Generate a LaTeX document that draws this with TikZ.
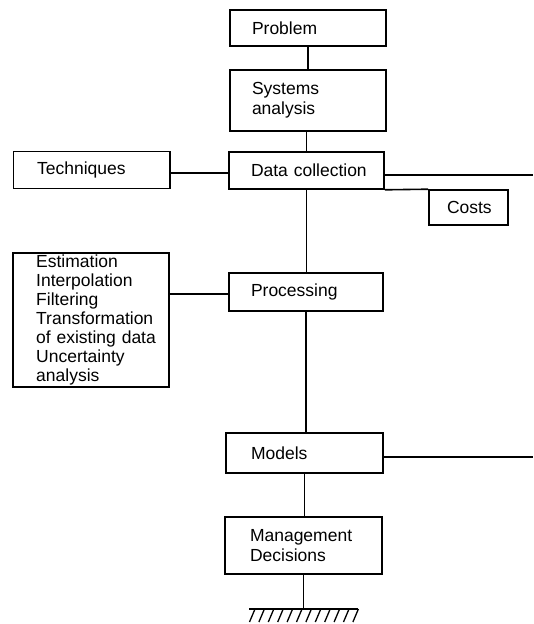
\documentclass[tikz,border=0pt]{standalone}
\usepackage{fontspec}
\setmainfont{Liberation Sans}
\hyphenpenalty=10000
\exhyphenpenalty=10000
% left indent of the text inside a box
\newcommand\boxtext[2]{\leftskip=#1\relax #2\par}
\begin{document}
\begin{tikzpicture}[x=1pt,y=-1pt,
  every node/.style={font=\fontsize{17.5}{20}\selectfont},
  box/.style={draw, line width=1.6pt, align=left, inner xsep=0pt, inner ysep=0pt},
  link/.style={line width=1.6pt},
  hatch/.style={line width=1.3pt}]
\useasboundingbox (0,0) rectangle (533,624);

% main chain of stages
\node[box, text width=156pt, minimum height=36pt] (prob) at (308,28) {\boxtext{22pt}{Problem}};
\node[box, text width=156pt, minimum height=61pt] (sys) at (308,100.5) {\boxtext{22pt}{Systems\\analysis}};
\node[box, text width=155pt, minimum height=37pt] (dc) at (306.5,170.5) {\boxtext{22pt}{Data collection}};
\node[box, text width=154pt, minimum height=38pt] (proc) at (306,292) {\boxtext{22pt}{Processing}};
\node[box, text width=157pt, minimum height=40pt] (mod) at (304.5,453) {\boxtext{25pt}{Models}};
\node[box, text width=157pt, minimum height=57pt] (mgmt) at (303.5,545.5) {\boxtext{25pt}{Management\\Decisions}};

% side boxes
\node[box, text width=156.4pt, minimum height=37pt] (tech) at (91.8,170) {\boxtext{23.5pt}{Techniques}};
\node[box, text width=79pt, minimum height=35pt] (costs) at (468.5,207.5) {\boxtext{18pt}{Costs}};
\node[box, text width=155.6pt, minimum height=134pt,
      font=\fontsize{17.5}{19}\selectfont] (est) at (91,320)
  {\boxtext{23pt}{Estimation\\Interpolation\\Filtering\\Transformation\\of existing data\\Uncertainty\\analysis}};

% free ends and ground
\coordinate (rt1) at (533,175);
\coordinate (rt2) at (533,457);
\coordinate (gnd) at (304,609);
\coordinate (gl) at (249,609);
\coordinate (gr) at (358,609);

% vertical links
\draw[link] (prob.south) -- (prob.south |- sys.north);
\draw[link] (dc.north) -- (dc.north |- sys.south);
\draw[link] (dc.south) -- (dc.south |- proc.north);
\draw[link] (proc.south) -- (proc.south |- mod.north);
\draw[link] (mod.south) -- (mod.south |- mgmt.north);
\draw[link] (mgmt.south) -- (mgmt.south |- gnd);

% horizontal links
\draw[link] ([yshift=-3pt]tech.east) -- ([yshift=-3pt]tech.east -| dc.west);
\draw[link] (dc.east |- rt1) -- (rt1);
\draw[link] (dc.south east) -- (costs.north west);
\draw[link] ([yshift=-2pt]proc.west) -- ([yshift=-2pt]proc.west -| est.east);
\draw[link] (mod.east |- rt2) -- (rt2);

% ground symbol
\draw[link] (gl) -- (gr);
\foreach \i in {0,...,11}
  \draw[hatch] (255+\i*9.4,609) -- ++(-5.5,13);
\end{tikzpicture}
\end{document}
